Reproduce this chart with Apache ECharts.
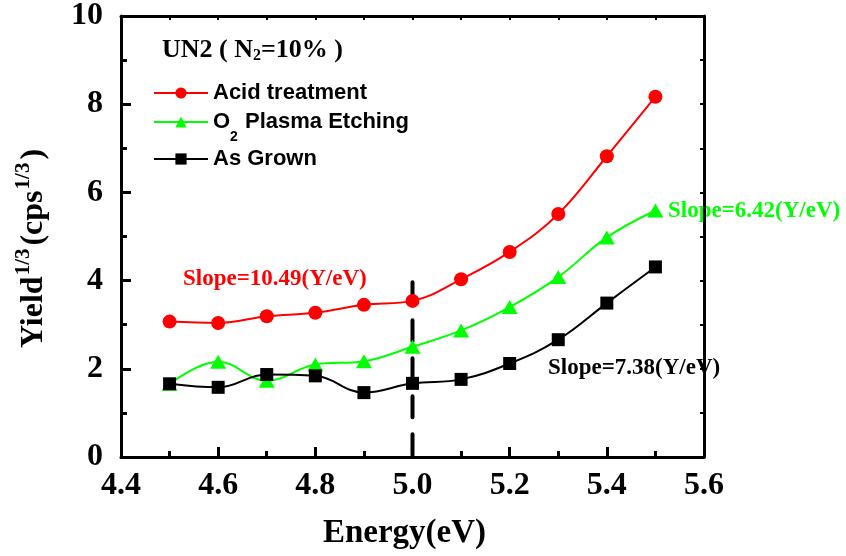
<!DOCTYPE html>
<html>
<head>
<meta charset="utf-8">
<script src="https://cdn.jsdelivr.net/npm/echarts@6/dist/echarts.min.js"></script>
<style>
  html, body { margin: 0; padding: 0; background: #fff; }
  #chart { width: 846px; height: 556px; }
</style>
</head>
<body>
<div id="chart"></div>
<script>
// Photoemission yield (cube root) versus photon energy, sample UN2 (N2 = 10%)
const energy = [4.5, 4.6, 4.7, 4.8, 4.9, 5.0, 5.1, 5.2, 5.3, 5.4, 5.5];
const acidTreatment = [3.07, 3.04, 3.19, 3.27, 3.45, 3.54, 4.03, 4.65, 5.51, 6.82, 8.17];
const plasmaEtching = [1.66, 2.16, 1.73, 2.10, 2.17, 2.50, 2.87, 3.40, 4.08, 4.98, 5.59];
const asGrown = [1.66, 1.58, 1.87, 1.84, 1.46, 1.67, 1.76, 2.12, 2.66, 3.49, 4.31];

// threshold marker at 5.0 eV
const thresholdEnergy = 5.0;
const thresholdTop = 3.96;

const seriesNames = ['Acid treatment', 'O2 Plasma Etching', 'As Grown'];
const slopeTexts = ['Slope=10.49(Y/eV)', 'Slope=6.42(Y/eV)', 'Slope=7.38(Y/eV)'];

const serif = '"Liberation Serif", "Times New Roman", serif';
const sans = '"Liberation Sans", Arial, sans-serif';

const pairs = (ys) => energy.map((x, i) => [x, ys[i]]);

const chart = echarts.init(document.getElementById('chart'), null, { renderer: 'canvas' });

const axisLineStyle = { color: '#000', width: 3 };

function legendFor(name, top) {
  return {
    data: [name],
    left: 153,
    top: top,
    padding: 0,
    itemWidth: 54,
    itemHeight: 14,
    itemGap: 0,
    selectedMode: false,
    formatter: (n) => n === 'O2 Plasma Etching' ? 'O{sub|2} Plasma Etching' : n,
    textStyle: {
      fontFamily: sans, fontWeight: 'bold', fontSize: 22, color: '#000',
      lineHeight: 24,
      rich: {
        sub: { fontFamily: sans, fontWeight: 'bold', fontSize: 14, color: '#000',
               verticalAlign: 'bottom', lineHeight: 14, padding: [0, 1, -10, 0] }
      }
    }
  };
}

const option = {
  animation: false,
  backgroundColor: '#fff',
  grid: { left: 121, right: 142, top: 15, bottom: 99, containLabel: false },
  title: {
    text: 'UN2 ( N{sub|2}=10% )',
    left: 162, top: 37, padding: 0,
    textStyle: {
      fontFamily: serif, fontWeight: 'bold', fontSize: 26, color: '#000',
      rich: {
        sub: { fontFamily: serif, fontWeight: 'bold', fontSize: 16, color: '#000',
               padding: [0, 0, -12, 0] }
      }
    }
  },
  legend: [
    legendFor(seriesNames[0], 81),
    legendFor(seriesNames[1], 110),
    legendFor(seriesNames[2], 147)
  ],
  xAxis: [
    {
      type: 'value', position: 'bottom', min: 4.4, max: 5.6, interval: 0.2,
      name: 'Energy(eV)', nameLocation: 'middle', nameGap: 60,
      nameTextStyle: { fontFamily: serif, fontWeight: 'bold', fontSize: 33, color: '#000',
                       padding: [0, 16, 0, 0] },
      axisLine: { onZero: false, lineStyle: axisLineStyle },
      axisTick: { inside: true, length: 10, lineStyle: { color: '#000', width: 3 } },
      minorTick: { show: true, splitNumber: 2, length: 6, lineStyle: { color: '#000', width: 3 } },
      axisLabel: { fontFamily: serif, fontWeight: 'bold', fontSize: 32, color: '#000', margin: 13,
                   formatter: (v) => v.toFixed(1) },
      splitLine: { show: false }, minorSplitLine: { show: false }
    },
    {
      type: 'value', position: 'top', min: 4.4, max: 5.6, interval: 0.2,
      axisLine: { onZero: false, lineStyle: axisLineStyle },
      axisTick: { inside: true, length: 4, lineStyle: { color: '#000', width: 2 } },
      minorTick: { show: true, splitNumber: 2, length: 4, lineStyle: { color: '#000', width: 2 } },
      axisLabel: { show: false },
      splitLine: { show: false }, minorSplitLine: { show: false }
    }
  ],
  yAxis: [
    {
      type: 'value', position: 'left', min: 0, max: 10, interval: 2,
      name: '{m|Yield}{s|1/3}{m|(cps}{s|1/3}{m|)}',
      nameLocation: 'middle', nameGap: 66, nameRotate: 90,
      nameTextStyle: {
        fontFamily: serif, fontWeight: 'bold', fontSize: 32, color: '#000',
        padding: [0, 24, 0, 0],
        rich: {
          m: { fontFamily: serif, fontWeight: 'bold', fontSize: 32, color: '#000', lineHeight: 42 },
          s: { fontFamily: serif, fontWeight: 'bold', fontSize: 21, color: '#000', lineHeight: 20,
               verticalAlign: 'top', padding: [0, 3, 0, 1] }
        }
      },
      axisLine: { onZero: false, lineStyle: axisLineStyle },
      axisTick: { inside: true, length: 10, lineStyle: { color: '#000', width: 3 } },
      minorTick: { show: true, splitNumber: 2, length: 6, lineStyle: { color: '#000', width: 3 } },
      axisLabel: { fontFamily: serif, fontWeight: 'bold', fontSize: 32, color: '#000', margin: 18 },
      splitLine: { show: false }, minorSplitLine: { show: false }
    },
    {
      type: 'value', position: 'right', min: 0, max: 10, interval: 2,
      axisLine: { onZero: false, lineStyle: axisLineStyle },
      axisTick: { inside: true, length: 4, lineStyle: { color: '#000', width: 2 } },
      minorTick: { show: true, splitNumber: 2, length: 4, lineStyle: { color: '#000', width: 2 } },
      axisLabel: { show: false },
      splitLine: { show: false }, minorSplitLine: { show: false }
    }
  ],
  series: [
    {
      name: 'threshold', type: 'line', xAxisIndex: 0, yAxisIndex: 0,
      data: [[thresholdEnergy, thresholdTop], [thresholdEnergy, 0]],
      symbol: 'none', silent: true, z: 1,
      lineStyle: { color: '#000', width: 4, type: [21, 17], cap: 'round' }
    },
    {
      name: seriesNames[0], type: 'line', data: pairs(acidTreatment), smooth: 0.4,
      symbol: 'circle', symbolSize: 14, z: 2,
      itemStyle: { color: '#ff0000' }, lineStyle: { color: '#ff0000', width: 2 }
    },
    {
      name: seriesNames[1], type: 'line', data: pairs(plasmaEtching), smooth: 0.4,
      symbol: 'triangle', symbolSize: [16, 14], z: 3,
      itemStyle: { color: '#00ff00' }, lineStyle: { color: '#00ff00', width: 2 }
    },
    {
      name: seriesNames[2], type: 'line', data: pairs(asGrown), smooth: 0.4,
      symbol: 'rect', symbolSize: 13, z: 4,
      itemStyle: { color: '#000' }, lineStyle: { color: '#000', width: 2 }
    }
  ],
  graphic: [
    { type: 'text', left: 183, top: 268, silent: true,
      style: { text: slopeTexts[0], fill: '#ff0000', font: 'bold 23px ' + serif } },
    { type: 'text', left: 668, top: 200, silent: true,
      style: { text: slopeTexts[1], fill: '#00ff00', font: 'bold 23px ' + serif } },
    { type: 'text', left: 548, top: 357, silent: true,
      style: { text: slopeTexts[2], fill: '#000', font: 'bold 23px ' + serif } }
  ]
};

chart.setOption(option);
</script>
</body>
</html>
